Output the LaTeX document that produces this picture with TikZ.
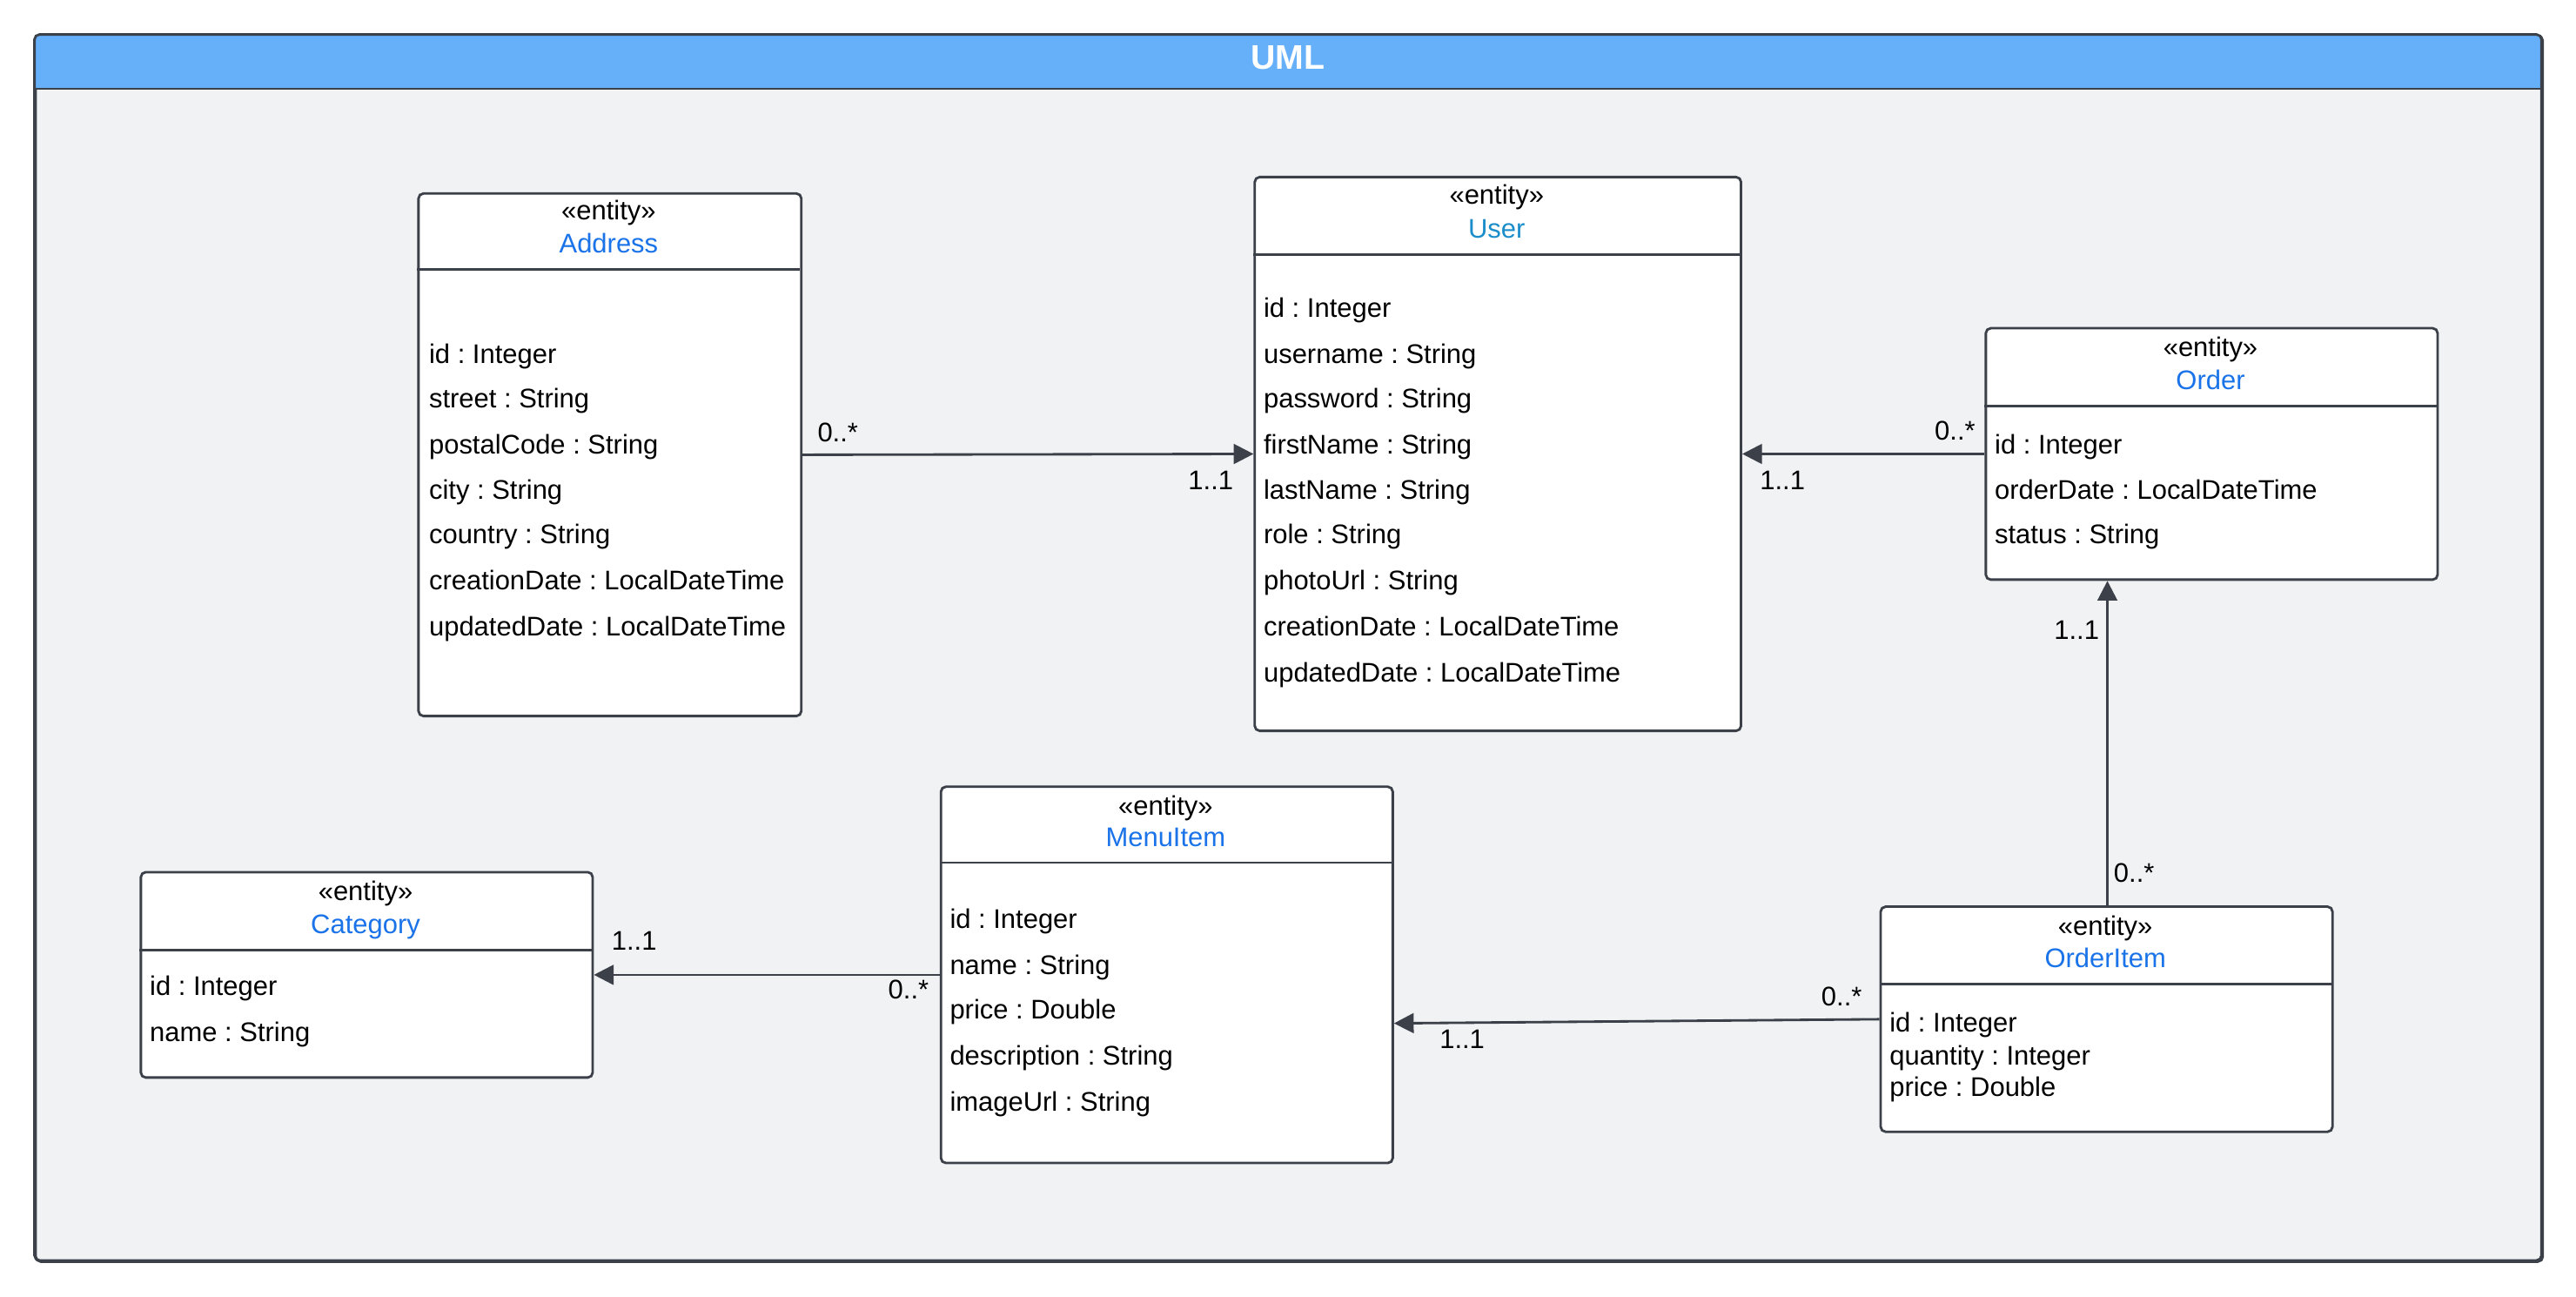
\documentclass[tikz,border=0pt]{standalone}
\usepackage{fontspec}
\setmainfont{Liberation Sans}
\frenchspacing
\usetikzlibrary{arrows.meta}
\definecolor{framefill}{HTML}{F1F2F4}
\definecolor{titlefill}{HTML}{66B0FA}
\definecolor{edge}{HTML}{3B4049}
\definecolor{clsname}{HTML}{1A73E8}
\definecolor{clsnameb}{HTML}{1B8DCA}
\tikzset{
  cls/.style={draw=edge, line width=1.5pt, fill=white, rounded corners=3pt,
    rectangle, inner sep=0pt, anchor=north west},
  divider/.style={draw=edge, line width=1.5pt},
  attr/.style={anchor=base west, inner sep=0pt, font=\fontsize{16.4}{19}\selectfont},
  stereo/.style={anchor=base, inner sep=0pt, font=\fontsize{16.4}{19}\selectfont},
  cname/.style={anchor=base, inner sep=0pt, text=clsname, font=\fontsize{16.4}{19}\selectfont},
  mult/.style={anchor=base, inner sep=0pt, font=\fontsize{16.4}{19}\selectfont},
  assoc/.style={draw=edge, line width=1.5pt, -{Triangle[length=12pt,width=12pt]}},
}
\begin{document}
\begin{tikzpicture}[x=1pt,y=1pt]
\useasboundingbox (0,0) rectangle (1568,-789);

% frame with title bar
\node[draw=edge, line width=1.5pt, fill=framefill, rounded corners=3pt, anchor=north west,
  minimum width=1526pt, minimum height=746pt, inner sep=0pt] (frame) at (21,-21) {};
\begin{scope}
  \clip[rounded corners=3pt] (21,-21) rectangle (1547,-767);
  \fill[titlefill] (21,-21) rectangle (1547,-54);
\end{scope}
\draw[edge, line width=1.5pt, rounded corners=3pt] (21,-21) rectangle (1547,-767);
\draw[divider] (21,-54) -- (1547,-54);
\node[anchor=base, inner sep=0pt, text=white, font=\fontsize{20.8}{24}\selectfont\bfseries] (title) at (784,-42) {UML};

% Address
\node[cls, minimum width=233pt, minimum height=318pt] (address) at (254,-117) {};
\draw[divider] (254,-164) -- (487,-164);
\node[stereo] (address-st) at (370.5,-134) {«entity»};
\node[cname] (address-nm) at (370.5,-154) {Address};
\node[attr] (address-a1) at (261,-221) {id : Integer};
\node[attr] (address-a2) at (261,-248) {street : String};
\node[attr] (address-a3) at (261,-276) {postalCode : String};
\node[attr] (address-a4) at (261,-304) {city : String};
\node[attr] (address-a5) at (261,-331) {country : String};
\node[attr] (address-a6) at (261,-359) {creationDate : LocalDateTime};
\node[attr] (address-a7) at (261,-387) {updatedDate : LocalDateTime};

% User
\node[cls, minimum width=296pt, minimum height=337pt] (user) at (763,-107) {};
\draw[divider] (763,-155) -- (1059,-155);
\node[stereo] (user-st) at (911,-124) {«entity»};
\node[cname, text=clsnameb] (user-nm) at (911,-145) {User};
\node[attr] (user-a1) at (769,-193) {id : Integer};
\node[attr] (user-a2) at (769,-221) {username : String};
\node[attr] (user-a3) at (769,-248) {password : String};
\node[attr] (user-a4) at (769,-276) {firstName : String};
\node[attr] (user-a5) at (769,-304) {lastName : String};
\node[attr] (user-a6) at (769,-331) {role : String};
\node[attr] (user-a7) at (769,-359) {photoUrl : String};
\node[attr] (user-a8) at (769,-387) {creationDate : LocalDateTime};
\node[attr] (user-a9) at (769,-415) {updatedDate : LocalDateTime};

% Order
\node[cls, minimum width=275pt, minimum height=153pt] (order) at (1208,-199) {};
\draw[divider] (1208,-247) -- (1483,-247);
\node[stereo] (order-st) at (1345.5,-217) {«entity»};
\node[cname] (order-nm) at (1345.5,-237) {Order};
\node[attr] (order-a1) at (1214,-276) {id : Integer};
\node[attr] (order-a2) at (1214,-304) {orderDate : LocalDateTime};
\node[attr] (order-a3) at (1214,-331) {status : String};

% Category
\node[cls, minimum width=275pt, minimum height=125pt] (category) at (85,-530) {};
\draw[divider] (85,-578) -- (360,-578);
\node[stereo] (category-st) at (222.5,-548) {«entity»};
\node[cname] (category-nm) at (222.5,-568) {Category};
\node[attr] (category-a1) at (91,-606) {id : Integer};
\node[attr] (category-a2) at (91,-634) {name : String};

% MenuItem
\node[cls, minimum width=275pt, minimum height=229pt] (menuitem) at (572,-478) {};
\draw[divider] (572,-525) -- (847,-525);
\node[stereo] (menuitem-st) at (709.5,-496) {«entity»};
\node[cname] (menuitem-nm) at (709.5,-515) {MenuItem};
\node[attr] (menuitem-a1) at (578,-565) {id : Integer};
\node[attr] (menuitem-a2) at (578,-593) {name : String};
\node[attr] (menuitem-a3) at (578,-620) {price : Double};
\node[attr] (menuitem-a4) at (578,-648) {description : String};
\node[attr] (menuitem-a5) at (578,-676) {imageUrl : String};

% OrderItem
\node[cls, minimum width=275pt, minimum height=137pt] (orderitem) at (1144,-551) {};
\draw[divider] (1144,-599) -- (1419,-599);
\node[stereo] (orderitem-st) at (1281.5,-569) {«entity»};
\node[cname] (orderitem-nm) at (1281.5,-589) {OrderItem};
\node[attr] (orderitem-a1) at (1150,-628) {id : Integer};
\node[attr] (orderitem-a2) at (1150,-648) {quantity : Integer};
\node[attr] (orderitem-a3) at (1150,-667) {price : Double};

% associations
\draw[assoc] (address.east) -- (user.west);
\node[mult] (m1a) at (510,-269) {0..*};
\node[mult] (m1b) at (737,-298) {1..1};

\draw[assoc] (order.west) -- (user.east);
\node[mult] (m2a) at (1190,-268) {0..*};
\node[mult] (m2b) at (1085,-298) {1..1};

\draw[assoc] ([xshift=0.5pt]orderitem.north) -- ([xshift=0.5pt]orderitem.north |- order.south);
\node[mult] (m3a) at (1264,-389) {1..1};
\node[mult] (m3b) at (1299,-537) {0..*};

\draw[assoc] (menuitem.west |- category.east) -- (category.east);
\node[mult] (m4a) at (386,-578) {1..1};
\node[mult] (m4b) at (553,-608) {0..*};

\draw[assoc] (orderitem.west) -- ([yshift=-29.5pt]menuitem.east);
\node[mult] (m5a) at (1121,-612) {0..*};
\node[mult] (m5b) at (890,-638) {1..1};
\end{tikzpicture}
\end{document}
